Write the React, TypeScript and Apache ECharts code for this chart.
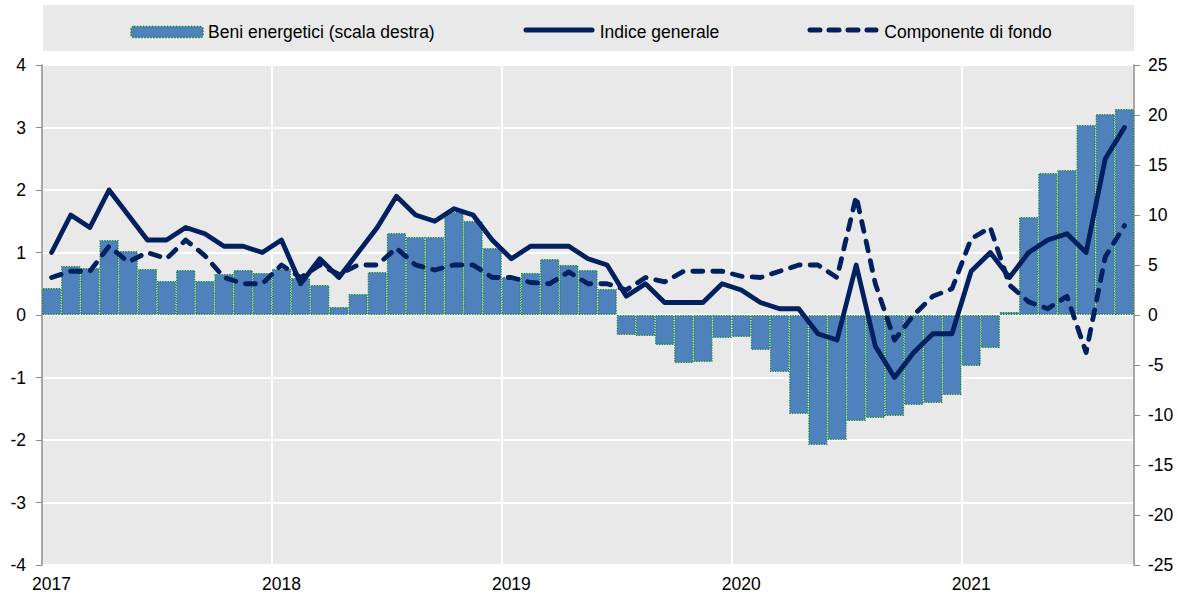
import React, { useEffect, useRef } from "react";
import * as echarts from "echarts";

const years = ["2017", "2018", "2019", "2020", "2021"];
const monthsPerYear = [12, 12, 12, 12, 9];

// Beni energetici (scala destra), % y/y
const energy = [
  2.7, 4.9, 4.7, 7.5, 6.4, 4.6, 3.4, 4.5, 3.4, 4.1, 4.5, 4.2,
  4.6, 3.7, 3.0, 0.8, 2.1, 4.3, 8.2, 7.8, 7.8, 10.3, 9.4, 6.7,
  3.8, 4.2, 5.6, 5.0, 4.5, 2.6, -2.0, -2.1, -3.0, -4.8, -4.7, -2.3,
  -2.2, -3.5, -5.7, -9.9, -13.0, -12.5, -10.6, -10.3, -10.1, -9.0, -8.8, -8.0,
  -5.1, -3.3, 0.3, 9.8, 14.2, 14.5, 19.0, 20.1, 20.6,
];

// Indice generale
const general = [
  1.0, 1.6, 1.4, 2.0, 1.6, 1.2, 1.2, 1.4, 1.3, 1.1, 1.1, 1.0,
  1.2, 0.5, 0.9, 0.6, 1.0, 1.4, 1.9, 1.6, 1.5, 1.7, 1.6, 1.2,
  0.9, 1.1, 1.1, 1.1, 0.9, 0.8, 0.3, 0.5, 0.2, 0.2, 0.2, 0.5,
  0.4, 0.2, 0.1, 0.1, -0.3, -0.4, 0.8, -0.5, -1.0, -0.6, -0.3, -0.3,
  0.7, 1.0, 0.6, 1.0, 1.2, 1.3, 1.0, 2.5, 3.0,
];

// Componente di fondo
const core = [
  0.6, 0.7, 0.7, 1.1, 0.85, 1.0, 0.9, 1.2, 0.95, 0.6, 0.5, 0.5,
  0.8, 0.6, 0.8, 0.65, 0.8, 0.8, 1.07, 0.8, 0.72, 0.8, 0.8, 0.6,
  0.6, 0.52, 0.5, 0.69, 0.5, 0.5, 0.4, 0.6, 0.53, 0.7, 0.7, 0.7,
  0.62, 0.6, 0.7, 0.8, 0.8, 0.6, 1.9, 0.5, -0.4, 0.0, 0.3, 0.42,
  1.22, 1.4, 0.48, 0.21, 0.1, 0.3, -0.6, 0.93, 1.43,
];

const seriesNames = ["Beni energetici (scala destra)", "Indice generale", "Componente di fondo"];

const categories: string[] = [];
years.forEach((y, yi) => {
  for (let m = 1; m <= monthsPerYear[yi]; m++) {
    categories.push(`${y}-${m < 10 ? "0" + m : m}`);
  }
});

const FONT = "'Liberation Sans Narrow', 'Arial Narrow', 'Liberation Sans', Arial, sans-serif";
const NAVY = "#002060";
const BAR = "#4f81bd";
const BORDER = "#138a36";

export default function App() {
  const ref = useRef<HTMLDivElement>(null);

  useEffect(() => {
    document.body.style.margin = "0";
    if (!ref.current) return;
    const chart = echarts.init(ref.current, null, { renderer: "svg" });
    const option: any = {
      animation: false,
      textStyle: { fontFamily: FONT },
      graphic: [
        {
          type: "rect",
          z: -10,
          shape: { x: 43, y: 5, width: 1091, height: 46 },
          style: { fill: "#e9e9e9" },
          silent: true,
        },
        {
          type: "line",
          z: 10,
          silent: true,
          shape: { x1: 526, y1: 30, x2: 592, y2: 30 },
          style: { stroke: NAVY, lineWidth: 5, lineCap: "round" },
        },
        {
          type: "line",
          z: 10,
          silent: true,
          shape: { x1: 810, y1: 30, x2: 876, y2: 30 },
          style: { stroke: NAVY, lineWidth: 5, lineCap: "round", lineDash: [10, 9] },
        },
      ],
      legend: {
        top: 18,
        left: "center",
        itemWidth: 72,
        itemHeight: 11,
        itemGap: 88,
        textStyle: { fontSize: 17.5, color: "#000", fontFamily: FONT },
        data: [
          {
            name: seriesNames[0],
            itemStyle: { color: BAR, borderColor: BORDER, borderWidth: 1.5, borderType: "dotted" },
          },
          {
            name: seriesNames[1],
            icon: "rect",
            itemStyle: { opacity: 0 },
          },
          {
            name: seriesNames[2],
            icon: "rect",
            itemStyle: { opacity: 0 },
          },
        ],
      },
      grid: {
        left: 42,
        right: 48,
        top: 65,
        bottom: 42,
        show: true,
        backgroundColor: "#e9e9e9",
        borderWidth: 0,
      },
      xAxis: {
        type: "category",
        data: categories,
        boundaryGap: true,
        axisLine: { show: false },
        axisTick: { show: false },
        axisLabel: {
          interval: (i: number) => i % 12 === 0,
          formatter: (v: string) => v.slice(0, 4),
          fontSize: 17.5,
          color: "#000",
          margin: 10,
          fontFamily: FONT,
        },
        splitLine: {
          show: true,
          interval: (i: number) => i % 12 === 0 && i > 0,
          lineStyle: { color: "#ffffff", width: 2 },
        },
      },
      yAxis: [
        {
          type: "value",
          position: "left",
          min: -4,
          max: 4,
          interval: 1,
          axisLine: { show: true, lineStyle: { color: "#8c8c8c", width: 1.5 } },
          axisTick: { show: true, length: 6, lineStyle: { color: "#8c8c8c" } },
          axisLabel: { fontSize: 17.5, color: "#000", margin: 16, fontFamily: FONT },
          splitLine: { show: true, lineStyle: { color: "#ffffff", width: 2 } },
        },
        {
          type: "value",
          position: "right",
          min: -25,
          max: 25,
          interval: 5,
          axisLine: { show: true, lineStyle: { color: "#8c8c8c", width: 1.5 } },
          axisTick: { show: true, length: 6, lineStyle: { color: "#8c8c8c" } },
          axisLabel: { fontSize: 17.5, color: "#000", margin: 14, fontFamily: FONT },
          splitLine: { show: false },
        },
      ],
      series: [
        {
          name: seriesNames[0],
          type: "bar",
          yAxisIndex: 1,
          data: energy,
          barCategoryGap: "0%",
          itemStyle: {
            color: BAR,
            borderColor: BORDER,
            borderWidth: 1.3,
            borderType: "dotted",
          },
          z: 2,
        },
        {
          name: seriesNames[1],
          type: "line",
          yAxisIndex: 0,
          data: general,
          symbol: "none",
          lineStyle: { color: NAVY, width: 4.8, cap: "round", join: "round" },
          itemStyle: { color: NAVY },
          z: 4,
        },
        {
          name: seriesNames[2],
          type: "line",
          yAxisIndex: 0,
          data: core,
          symbol: "none",
          lineStyle: { color: NAVY, width: 4.8, type: [10, 10], cap: "round", join: "round" },
          itemStyle: { color: NAVY },
          z: 3,
        },
      ],
    };
    chart.setOption(option);
    return () => chart.dispose();
  }, []);

  return <div ref={ref} style={{ width: 1182, height: 607 }} />;
}
